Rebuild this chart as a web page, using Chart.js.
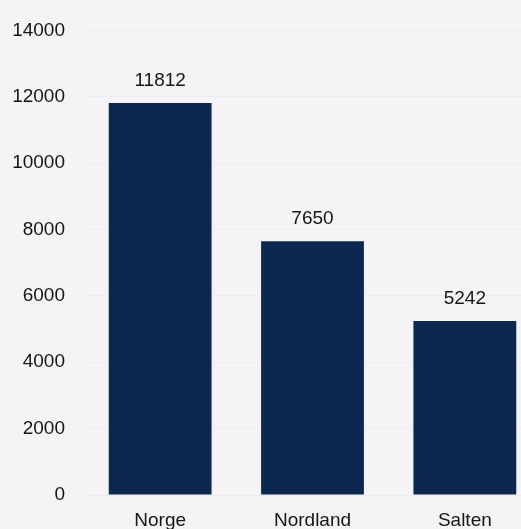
<!DOCTYPE html>
<html>
<head>
<meta charset="utf-8">
<script src="https://cdn.jsdelivr.net/npm/chart.js@4"></script>
<style>
  html, body { margin: 0; padding: 0; background: #f6f3f7; overflow: hidden; }
  #wrap { position: relative; width: 541px; height: 529px; }
</style>
</head>
<body>
<div id="wrap"><canvas id="c"></canvas></div>
<script>
const categories = ["Norge", "Nordland", "Salten"];
const values = [11812, 7650, 5242];
const yTicks = [0, 2000, 4000, 6000, 8000, 10000, 12000, 14000];

const FONT = "'Liberation Sans', Arial, sans-serif";
const TEXT = "#151515";

const valueLabels = {
  id: "valueLabels",
  afterDatasetsDraw(chart) {
    const ctx = chart.ctx;
    const meta = chart.getDatasetMeta(0);
    ctx.save();
    ctx.font = "19px " + FONT;
    ctx.fillStyle = TEXT;
    ctx.textAlign = "center";
    ctx.textBaseline = "middle";
    meta.data.forEach((bar, i) => {
      ctx.fillText(String(chart.data.datasets[0].data[i]), bar.x, bar.y - 22);
    });
    ctx.restore();
  }
};

new Chart(document.getElementById("c"), {
  type: "bar",
  data: {
    labels: categories,
    datasets: [{
      data: values,
      backgroundColor: "#0d2850",
      borderWidth: 0,
      barPercentage: 0.675,
      categoryPercentage: 1
    }]
  },
  options: {
    responsive: true,
    maintainAspectRatio: false,
    animation: false,
    layout: { padding: { top: 28, right: 0, left: 0, bottom: 0 } },
    plugins: { legend: { display: false }, tooltip: { enabled: false } },
    scales: {
      x: {
        grid: { display: false, drawTicks: false },
        border: { display: false },
        ticks: { color: TEXT, font: { family: FONT, size: 19 }, padding: 14 },
        afterFit(s) { s.height = 34; }
      },
      y: {
        min: 0, max: 14000,
        afterBuildTicks(s) { s.ticks = yTicks.map(v => ({ value: v })); },
        grid: { color: "#eeeaf0", drawTicks: false },
        border: { display: false },
        ticks: {
          color: TEXT, font: { family: FONT, size: 19 }, padding: 19,
          callback: (v) => String(v)
        },
        afterFit(s) { s.width = 84; }
      }
    }
  },
  plugins: [valueLabels]
});
</script>
</body>
</html>
